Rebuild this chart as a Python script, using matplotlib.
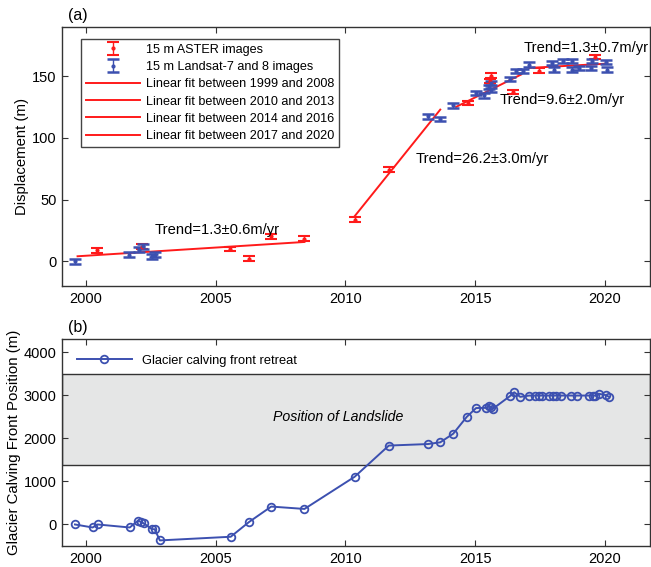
import matplotlib
matplotlib.use('Agg')
import matplotlib.pyplot as plt
import numpy as np

plt.rcParams['font.family'] = ['Liberation Sans', 'DejaVu Sans']

# ASTER displacement (m)
aster_t = [2000.42, 2002.15, 2005.54, 2006.28, 2007.12, 2008.42, 2010.35, 2011.69,
           2014.73, 2015.60, 2015.56, 2016.47, 2017.46, 2019.62]
aster_d = [8.9, 12.0, 10.0, 2.2, 20.3, 18.4, 33.8, 74.4,
           128.4, 150.6, 146.0, 137.4, 154.7, 165.8]

# Landsat-7/8 displacement (m)
ls_t = [1999.57, 2001.68, 2002.03, 2002.22, 2002.54, 2002.67, 2013.17, 2013.65,
        2014.15, 2015.03, 2015.35, 2015.54, 2015.60, 2015.62, 2016.33, 2016.56,
        2016.82, 2017.08, 2017.97, 2018.04, 2018.36, 2018.74, 2018.74, 2019.00,
        2019.45, 2019.51, 2020.03, 2020.09]
ls_d = [0.0, 5.4, 9.5, 12.2, 4.0, 5.4, 117.6, 115.5,
        126.5, 136.5, 134.6, 141.4, 144.7, 138.7, 147.9, 154.1,
        154.1, 159.5, 160.9, 155.5, 162.2, 162.2, 155.5, 156.8,
        156.8, 162.2, 161.4, 155.5]
err = 1.8

# linear fits: (start, end, y at start, y at end)
fit_t0 = [1999.68, 2010.35, 2014.26, 2017.08]
fit_t1 = [2008.42, 2013.65, 2016.76, 2020.09]
fit_y0 = [4.1, 36.5, 125.2, 156.8]
fit_y1 = [15.7, 123.0, 151.4, 160.3]
fit_names = ['Linear fit between 1999 and 2008', 'Linear fit between 2010 and 2013',
             'Linear fit between 2014 and 2016', 'Linear fit between 2017 and 2020']
trend_txt = ['Trend=1.3\u00b10.6m/yr', 'Trend=26.2\u00b13.0m/yr',
             'Trend=9.6\u00b12.0m/yr', 'Trend=1.3\u00b10.7m/yr']
trend_x = [2002.65, 2012.69, 2015.95, 2016.88]
trend_y = [25.6, 83.0, 131.0, 173.0]

# calving front position (m)
front_t = [1999.58, 2000.26, 2000.45, 2001.69, 2002.01, 2002.14, 2002.23, 2002.55,
           2002.65, 2002.85, 2005.58, 2006.28, 2007.14, 2008.42, 2010.35, 2011.67,
           2013.17, 2013.65, 2014.15, 2014.67, 2015.03, 2015.41, 2015.54, 2015.60,
           2015.67, 2016.33, 2016.50, 2016.73, 2017.08, 2017.30, 2017.46, 2017.55,
           2017.85, 2018.00, 2018.10, 2018.30, 2018.70, 2018.90, 2019.38, 2019.55,
           2019.62, 2019.77, 2020.03, 2020.15]
front_p = [0, -70, 0, -70, 90, 55, 25, -110,
           -110, -370, -285, 55, 415, 360, 1105, 1830,
           1865, 1905, 2105, 2495, 2700, 2705, 2740, 2725,
           2680, 2975, 3065, 2960, 2990, 2990, 2990, 2990,
           2990, 2990, 2990, 2990, 2990, 2990, 2990, 2990,
           2990, 3030, 3000, 2960]

red = '#ff1a1a'
blue = '#3c50b0'

fig = plt.figure(figsize=(6.51, 5.67), dpi=100)
ax1 = fig.add_axes([0.0952, 0.4956, 0.9033, 0.4568])
ax2 = fig.add_axes([0.0952, 0.037, 0.9033, 0.365])

for ax in (ax1, ax2):
    ax.set_xlim(1999.08, 2021.73)
    ax.set_xticks([2000, 2005, 2010, 2015, 2020])
    ax.tick_params(direction='in', top=True, right=True, labelsize=10.5, length=4,
                   color='#333333', pad=4)
    for s in ax.spines.values():
        s.set_color('#333333')
        s.set_linewidth(1.0)

# (a)
h_fit = []
for i in range(4):
    h, = ax1.plot([fit_t0[i], fit_t1[i]], [fit_y0[i], fit_y1[i]], color=red, lw=1.4,
                  label=fit_names[i])
    h_fit.append(h)
h_a = ax1.errorbar(aster_t, aster_d, yerr=err, fmt='.', color=red, ms=4,
                   capsize=4, elinewidth=1, capthick=1.5, label='15 m ASTER images')
h_l = ax1.errorbar(ls_t, ls_d, yerr=err, fmt='.', color=blue, ms=4,
                   capsize=4, elinewidth=1, capthick=1.8, label='15 m Landsat-7 and 8 images')
for i in range(4):
    ax1.text(trend_x[i], trend_y[i], trend_txt[i], fontsize=10.6, va='center', ha='left')
ax1.set_ylim(-20, 190)
ax1.set_yticks([0, 50, 100, 150])
ax1.set_ylabel('Displacement (m)', fontsize=10.7, labelpad=2)
leg = ax1.legend(handles=[h_a, h_l] + h_fit, loc='upper left',
                 bbox_to_anchor=(0.022, 0.977), fontsize=9.1, handlelength=4.3,
                 fancybox=False, edgecolor='#444444', framealpha=1,
                 borderpad=0.35, labelspacing=0.42, handletextpad=0.5)
leg.get_frame().set_linewidth(1.0)
fig.text(0.104, 0.973, '(a)', fontsize=11.5, va='center', ha='left')

# (b)
ax2.axhspan(1370, 3500, facecolor='#e5e6e6', edgecolor='#333333', lw=1.0, zorder=0)
ax2.plot(front_t, front_p, '-o', color=blue, lw=1.4, ms=5.5, mfc='none', mew=1.3,
         label='Glacier calving front retreat')
ax2.text(2009.7, 2500, 'Position of Landslide', fontsize=10.2, style='italic',
         ha='center', va='center')
ax2.set_ylim(-500, 4300)
ax2.set_yticks([0, 1000, 2000, 3000, 4000])
ax2.set_ylabel('Glacier Calving Front Position (m)', fontsize=10.8, labelpad=2)
ax2.legend(loc='upper left', bbox_to_anchor=(0.005, 0.98), fontsize=9.3,
           handlelength=4.3, frameon=False, borderpad=0.4)
fig.text(0.104, 0.422, '(b)', fontsize=11.5, va='center', ha='left')

fig.savefig('out.png', dpi=100)
